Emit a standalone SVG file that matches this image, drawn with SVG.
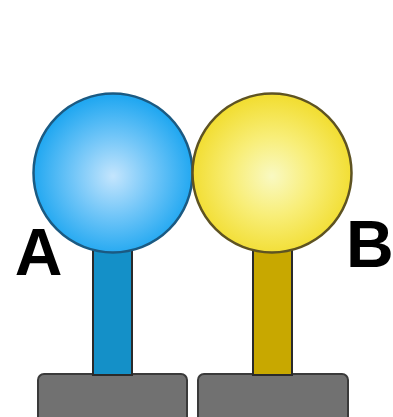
<svg xmlns="http://www.w3.org/2000/svg" width="393" height="417" viewBox="0 0 393 417">
  <defs>
    <radialGradient id="gBlue" cx="0.5" cy="0.52" r="0.5">
      <stop offset="0" stop-color="#c4e5fd"/>
      <stop offset="0.5" stop-color="#72c6f8"/>
      <stop offset="1" stop-color="#22a8f1"/>
    </radialGradient>
    <radialGradient id="gYellow" cx="0.5" cy="0.52" r="0.5">
      <stop offset="0" stop-color="#f9f9c2"/>
      <stop offset="0.5" stop-color="#f8ee78"/>
      <stop offset="1" stop-color="#f2de34"/>
    </radialGradient>
    <style>
      .base { fill: #717171; stroke: #3a3a3a; stroke-width: 2; }
      .stem { stroke: #2a2a2a; stroke-width: 2; }
      .ball { stroke-width: 2.5; }
      .lbl { font-family: "Liberation Sans", Arial, sans-serif; font-weight: bold; font-size: 66px; fill: #000; }
    </style>
  </defs>
  <rect width="393" height="417" fill="#ffffff"/>

  <g id="stand-a">
    <rect class="base" x="38" y="374" width="149" height="50" rx="6"/>
    <rect class="stem" x="93" y="240" width="39" height="135" fill="#1490c8"/>
    <circle class="ball" cx="113" cy="173" r="79.5" fill="url(#gBlue)" stroke="#1b5a82"/>
    <text class="lbl" x="38.5" y="275" text-anchor="middle">A</text>
  </g>

  <g id="stand-b">
    <rect class="base" x="198" y="374" width="150" height="50" rx="6"/>
    <rect class="stem" x="253" y="240" width="39" height="135" fill="#c8a800"/>
    <circle class="ball" cx="272" cy="173" r="79.5" fill="url(#gYellow)" stroke="#5e5322"/>
    <text class="lbl" x="346" y="267" font-size="68">B</text>
  </g>

  <g id="connectors"/>
</svg>
